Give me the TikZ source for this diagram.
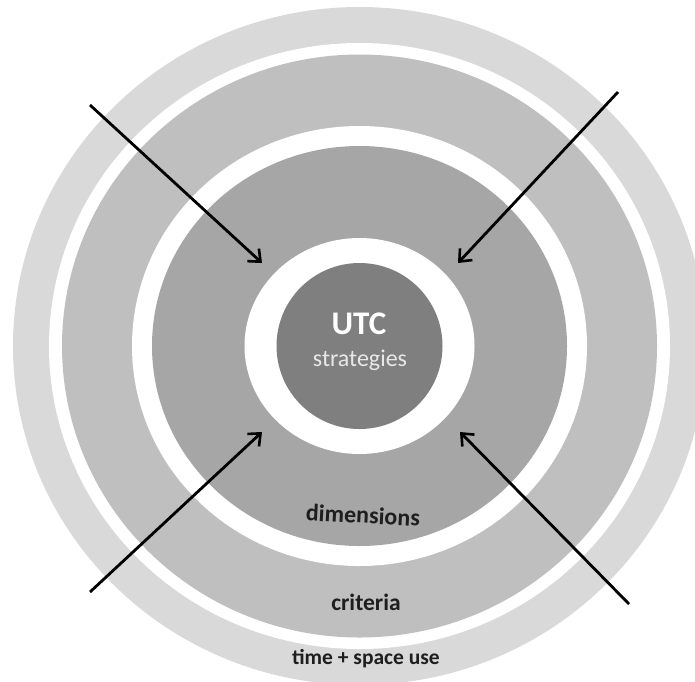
\documentclass[tikz,border=0pt]{standalone}
\usepackage{fontspec}
\setmainfont{Carlito}
\usetikzlibrary{arrows.meta}
\definecolor{ringA}{HTML}{D9D9D9}
\definecolor{ringB}{HTML}{BFBFBF}
\definecolor{ringC}{HTML}{A6A6A6}
\definecolor{core}{HTML}{7F7F7F}
\definecolor{inktext}{HTML}{1E1E1E}
\definecolor{coretext}{HTML}{E8E8E8}
\begin{document}
\begin{tikzpicture}[x=1pt,y=-1pt,
  label/.style={font=\bfseries, text=inktext, inner sep=0pt},
  inarrow/.style={line width=2.8pt, draw=black,
    -{Straight Barb[length=10pt,width=17pt,line width=2.6pt]}}]
\useasboundingbox (0,0) rectangle (695,681);
\clip (0,0) rectangle (695,681);
\coordinate (c) at (359.5,346);
% concentric bands, outermost first
\fill[ringA] (c) ellipse [x radius=346.5, y radius=339];
\fill[white] (c) ellipse [x radius=310.5, y radius=303];
\fill[ringB] (c) ellipse [x radius=297.5, y radius=291.5];
\fill[white] (c) ellipse [x radius=227.5, y radius=220];
\fill[ringC] (c) ellipse [x radius=207.5, y radius=200];
\fill[white] (c) ellipse [x radius=115, y radius=108];
\fill[core] (c) circle [radius=83];
% labels
\node[inner sep=0pt, text=white, font=\fontsize{33}{34}\selectfont\bfseries] (utc) at (359,324) {UTC};
\node[inner sep=0pt, text=coretext, font=\fontsize{24}{25}\selectfont] (strat) at (360,360) {strategies};
\node[label, font=\fontsize{24}{26}\selectfont\bfseries, rotate=-3] (dim) at (363,515) {dimensions};
\node[label, font=\fontsize{23.5}{25}\selectfont\bfseries] (crit) at (366,602) {criteria};
\node[label, font=\fontsize{21.5}{23}\selectfont\bfseries] (time) at (366,659) {time + space use};
% arrows pointing inwards
\coordinate (tlS) at (90,105);   \coordinate (tlE) at (262,263);
\coordinate (trS) at (618,92);   \coordinate (trE) at (458,263);
\coordinate (blS) at (90,592);   \coordinate (blE) at (262,432);
\coordinate (brS) at (629,604);  \coordinate (brE) at (460,432);
\draw[inarrow] (tlS) -- (tlE);
\draw[inarrow] (trS) -- (trE);
\draw[inarrow] (blS) -- (blE);
\draw[inarrow] (brS) -- (brE);
\end{tikzpicture}
\end{document}
